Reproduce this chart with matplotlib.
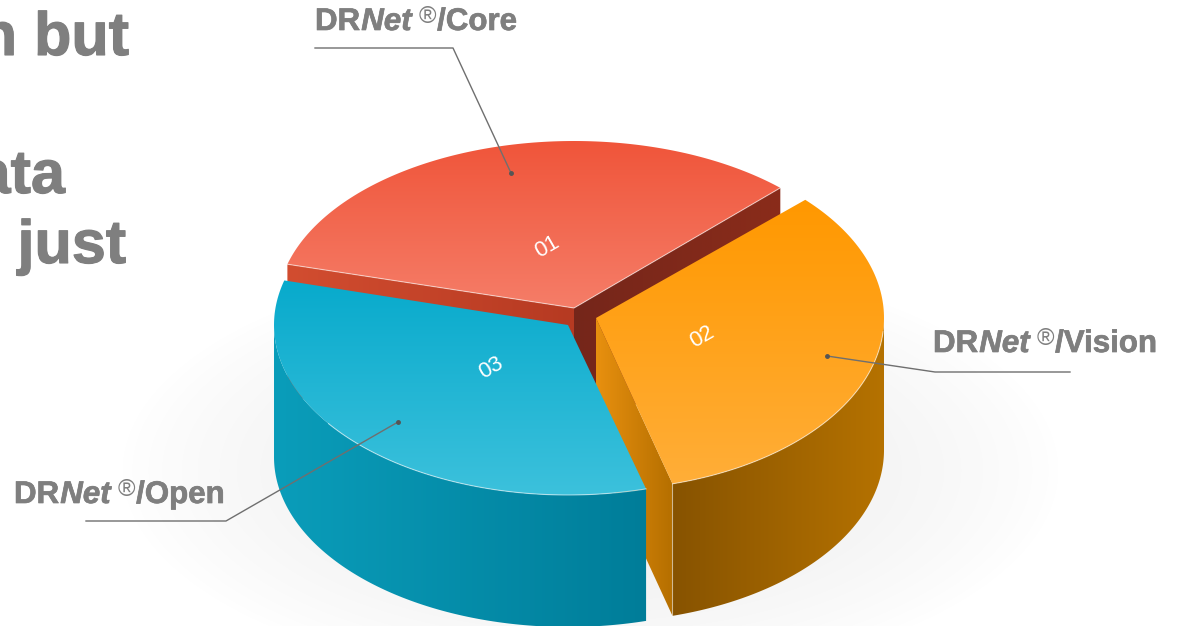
import numpy as np
import matplotlib
matplotlib.use('Agg')
import matplotlib.pyplot as plt
import matplotlib.patheffects as pe
from matplotlib.colors import LinearSegmentedColormap
from matplotlib.patches import Polygon

# chart values
slice_labels = ['Core', 'Open', 'Vision']
slice_numbers = ['01', '03', '02']
shares = [33.0, 33.5, 33.5]
heading_bits = ['n but', 'ata', 'just']

start_angle = 46
# apex x, apex y, radius x, radius y for each slice (they are pulled apart)
centers = [(574, 308), (568, 325), (596, 318)]
radii = [(297, 167), (294, 170), (288, 172)]
depth = 132
orange_trim = 2.6

GRAY = '#7f7f7f'
plt.rcParams['font.family'] = ['Liberation Sans', 'DejaVu Sans']

fig = plt.figure(figsize=(11.77, 6.26), dpi=100)
ax = fig.add_axes([0, 0, 1, 1])
ax.set_xlim(0, 1177)
ax.set_ylim(626, 0)
ax.axis('off')


def arc(i, a0, a1, drop=0):
    t = np.radians(np.linspace(a0, a1, 120))
    cx, cy = centers[i]
    rx, ry = radii[i]
    return np.column_stack([cx + rx * np.cos(t), cy - ry * np.sin(t) + drop])


def fill(pts, colors, z, horizontal=False):
    # gradient image clipped to a polygon
    pts = np.asarray(pts)
    x0, x1 = pts[:, 0].min(), pts[:, 0].max()
    y0, y1 = pts[:, 1].min(), pts[:, 1].max()
    ramp = np.linspace(0, 1, 256)
    ramp = ramp[None, :] if horizontal else ramp[:, None]
    cmap = LinearSegmentedColormap.from_list('g', colors)
    im = ax.imshow(ramp, cmap=cmap, extent=[x0, x1, y1, y0], aspect='auto',
                   interpolation='bilinear', zorder=z)
    im.set_clip_path(Polygon(pts, closed=True, transform=ax.transData))


def edge(pts, z, alpha=0.55, lw=0.8):
    pts = np.asarray(pts)
    ax.plot(pts[:, 0], pts[:, 1], color='white', alpha=alpha, lw=lw, zorder=z)


# soft floor shadow
yy, xx = np.mgrid[0:626, 0:1177]
d = np.sqrt(((xx - 590) / 470) ** 2 + ((yy - 470) / 215) ** 2)
shade = np.clip(1 - d, 0, 1) ** 0.8
ax.imshow(np.dstack([np.full_like(shade, 0.72)] * 3 + [shade * 0.3]),
          extent=[0, 1177, 626, 0], aspect='auto', zorder=1)

# slice angles from the shares
spans = np.array(shares) / sum(shares) * 360
starts = start_angle + np.concatenate([[0], np.cumsum(spans)[:-1]])
ends = starts + spans
ends[2] -= orange_trim

# 01 red: two cut faces then the top
a = np.array(centers[0], dtype=float)
r_start = arc(0, starts[0], starts[0] + 0.01)[0]
r_end = arc(0, ends[0], ends[0] + 0.01)[0]
fill([a, r_start, r_start + [0, depth], a + [0, depth]], ['#75261a', '#8a2c1a'], 2, True)
fill([a, r_end, r_end + [0, depth], a + [0, depth]], ['#d24d30', '#b63a22'], 3, True)
top = np.vstack([a, arc(0, starts[0], ends[0])])
fill(top, ['#f0553a', '#f57d68'], 4)
edge([r_end, a, r_start], 5)

# 02 orange: cut face, outer wall (front facing part only), top
a = np.array(centers[2], dtype=float)
o_start = arc(2, starts[2], starts[2] + 0.01)[0]
fill([a, o_start, o_start + [0, depth], a + [0, depth]], ['#e8900f', '#b56f00'], 6, True)
wall = arc(2, starts[2], 360)
fill(np.vstack([wall, arc(2, 360, starts[2], depth)]), ['#875300', '#b57200'], 7, True)
top = np.vstack([a, arc(2, starts[2], ends[2])])
fill(top, ['#ff9800', '#ffae38'], 8)
edge(arc(2, starts[2], starts[2] + 70), 9)
edge([o_start, o_start + [0, depth]], 9, alpha=0.45)

# 03 blue: outer wall (front facing part only), top
a = np.array(centers[1], dtype=float)
wall = arc(1, 180, ends[1])
fill(np.vstack([wall, arc(1, ends[1], 180, depth)]), ['#0a9dba', '#007d99'], 10, True)
outer = arc(1, starts[1], ends[1])
top = np.vstack([a, outer])
fill(top, ['#08aacc', '#3cc1dc'], 11)
edge(outer[50:], 12)

# numbers printed on the slices
number_pos = [(547, 247), (491, 368), (702, 337)]
for num, (x, y) in zip(slice_numbers, number_pos):
    ax.text(x, y, num, color='white', fontsize=16, rotation=30, ha='center', va='center',
            rotation_mode='anchor', zorder=20)

heavy = [pe.withStroke(linewidth=0.5, foreground=GRAY)]


def label(x, baseline, name):
    # mixed bold / italic label, one run after the other
    runs = [('DR', 'normal', 22.5, 0, 'bold'), ('Net', 'italic', 22.5, 0, 'bold'), (' ', 'normal', 22.5, 0, 'bold'),
            ('®', 'normal', 17, -7, 'normal'), ('/' + name, 'normal', 22.5, 0, 'bold')]
    for s, style, size, dy, weight in runs:
        t = ax.text(x, baseline + dy, s, color=GRAY, fontsize=size, fontweight=weight, style=style,
                    va='baseline', ha='left', zorder=21)
        if s == ' ':
            x += 6
            continue
        if weight == 'bold':
            t.set_path_effects(heavy)
        bb = t.get_window_extent(fig.canvas.get_renderer())
        x += bb.width + 1


label(315, 30, slice_labels[0])
label(933, 352, slice_labels[2])
label(14, 503, slice_labels[1])

leaders = [([315, 453, 511], [48, 48, 173]),
           ([1070, 935, 827], [372, 372, 356]),
           ([86, 226, 398], [521, 521, 422])]
for xs, ys in leaders:
    ax.plot(xs, ys, color='#6f6f6f', lw=1, zorder=22)
    ax.plot(xs[-1], ys[-1], 'o', color='#555555', ms=2.5, zorder=22)

# cut-off heading on the left
heading_pos = [(129, 55), (65, 193), (126, 263)]
for s, (x, y) in zip(heading_bits, heading_pos):
    ax.text(x, y, s, color=GRAY, fontsize=44, fontweight='bold', ha='right', va='baseline', zorder=23,
            path_effects=[pe.withStroke(linewidth=0.8, foreground=GRAY)])

fig.savefig('out.png', dpi=100)
